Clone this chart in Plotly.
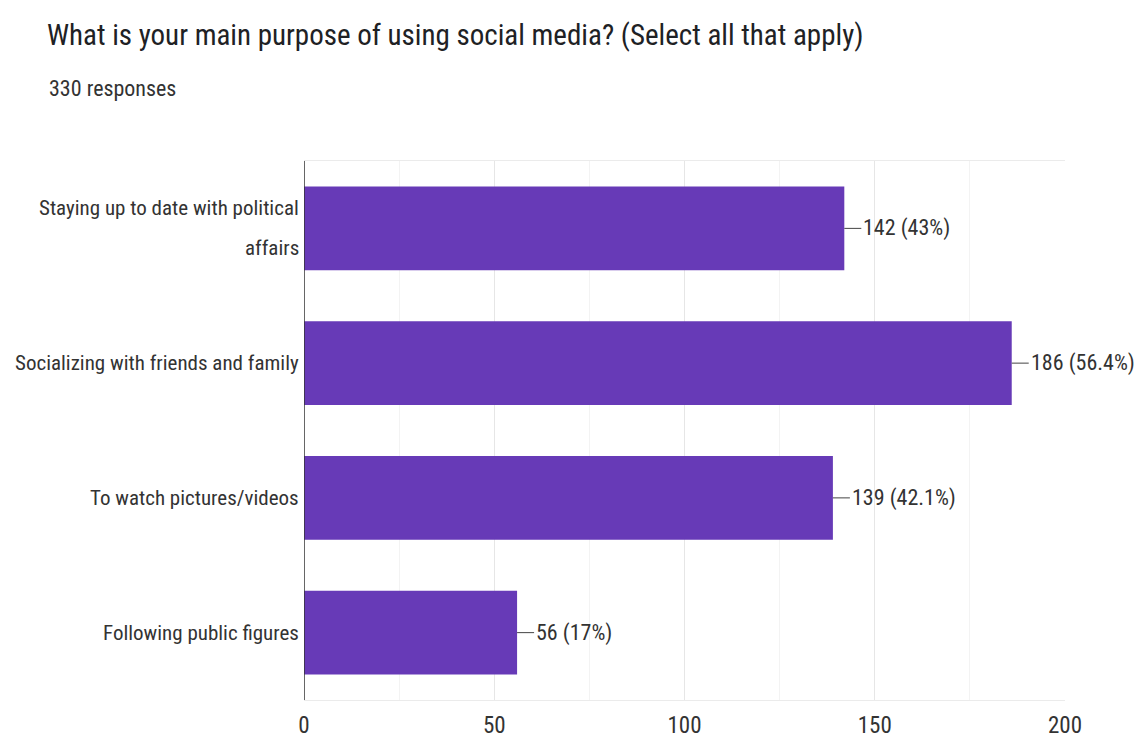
import plotly.graph_objects as go

categories = [
    "Staying up to date with political<br>affairs",
    "Socializing with friends and family",
    "To watch pictures/videos",
    "Following public figures",
]
counts = [142, 186, 139, 56]
percents = ["43%", "56.4%", "42.1%", "17%"]
x_ticks = [0, 50, 100, 150, 200]

FONT = "Liberation Sans Narrow, Roboto Condensed, Arial Narrow, Liberation Sans, sans-serif"
BAR = "#673ab7"
TEXT = "#333333"

fig = go.Figure(
    go.Bar(
        x=counts,
        y=categories,
        orientation="h",
        marker=dict(color=BAR, line=dict(width=0)),
        hoverinfo="skip",
    )
)

# value labels joined to the bar end by a short leader line
for c, n, p in zip(categories, counts, percents):
    fig.add_annotation(
        x=n, y=c, xref="x", yref="y",
        text=f"{n} ({p})",
        showarrow=True, arrowhead=0, arrowwidth=1, arrowcolor="#444",
        ax=17, ay=0, xanchor="left", standoff=0, startstandoff=0,
        font=dict(family=FONT, size=22, color=TEXT),
    )

# category labels, with generous spacing between wrapped lines
LINE_GAP = 40
for c in categories:
    lines = c.split("<br>")
    k = len(lines)
    for i, line in enumerate(lines):
        fig.add_annotation(
            x=0, y=c, xref="paper", yref="y",
            text=line, showarrow=False,
            xanchor="right", yanchor="middle", xshift=-3,
            yshift=((k - 1) / 2 - i) * LINE_GAP,
            font=dict(family=FONT, size=21, color=TEXT),
        )

fig.update_layout(
    width=1145, height=747,
    margin=dict(l=304, r=80, t=161, b=47),
    paper_bgcolor="white", plot_bgcolor="white",
    bargap=0.38,
    showlegend=False,
    font=dict(family=FONT, color=TEXT),
    title=dict(
        text="What is your main purpose of using social media? (Select all that apply)",
        xref="container", x=0.041, xanchor="left",
        yref="container", y=0.953, yanchor="middle",
        font=dict(family=FONT, size=29, color="#202124"),
    ),
    xaxis=dict(
        range=[0, 200], tickvals=x_ticks, showgrid=True,
        gridcolor="#e6e6e6", gridwidth=1, zeroline=False,
        minor=dict(dtick=25, showgrid=True, gridcolor="#f3f3f3", gridwidth=1),
        tickfont=dict(family=FONT, size=23, color=TEXT),
        ticks="", ticklabelstandoff=4, fixedrange=True, automargin=False,
        showline=True, linecolor="#ebebeb", linewidth=1, mirror=True,
    ),
    yaxis=dict(
        autorange="reversed", showgrid=False, zeroline=False,
        showticklabels=False, ticks="", showline=False, automargin=False,
    ),
)

fig.add_annotation(
    text="330 responses", xref="paper", yref="paper",
    x=-0.3377, y=1.135, xanchor="left", yanchor="middle",
    showarrow=False,
    font=dict(family=FONT, size=22, color=TEXT),
)

# dark baseline at zero
fig.add_shape(
    type="line", xref="x", yref="paper", x0=0, x1=0, y0=0, y1=1,
    line=dict(color=TEXT, width=1.5),
)

fig.write_html("out.html")
